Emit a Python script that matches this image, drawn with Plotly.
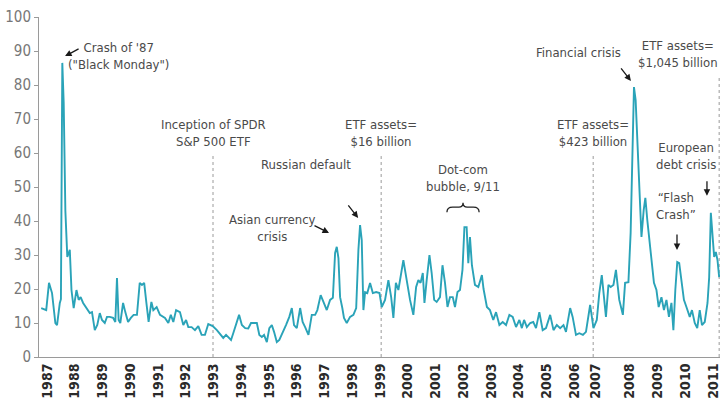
import plotly.graph_objects as go

# ---- data ----
years = [1986.79, 1986.97, 1987.07, 1987.18, 1987.30, 1987.36, 1987.46, 1987.50, 1987.55, 1987.60,
         1987.66, 1987.73, 1987.82, 1987.88, 1987.96, 1988.06, 1988.14, 1988.21, 1988.30, 1988.42,
         1988.54, 1988.62, 1988.72, 1988.81, 1988.90, 1988.98, 1989.08, 1989.16, 1989.26, 1989.38,
         1989.46, 1989.52, 1989.58, 1989.64, 1989.74, 1989.82, 1989.92, 1990.02, 1990.12, 1990.24,
         1990.34, 1990.42, 1990.50, 1990.58, 1990.66, 1990.76, 1990.83, 1990.95, 1991.07, 1991.25,
         1991.37, 1991.46, 1991.55, 1991.65, 1991.79, 1991.91, 1992.01, 1992.09, 1992.21, 1992.33,
         1992.45, 1992.57, 1992.69, 1992.81, 1992.97, 1993.12, 1993.26, 1993.35, 1993.45, 1993.53,
         1993.63, 1993.71, 1993.81, 1993.92, 1994.02, 1994.14, 1994.25, 1994.35, 1994.46, 1994.56,
         1994.65, 1994.74, 1994.82, 1994.92, 1995.01, 1995.10, 1995.18, 1995.28, 1995.37, 1995.49,
         1995.61, 1995.73, 1995.82, 1995.90, 1996.00, 1996.12, 1996.21, 1996.30, 1996.42, 1996.54,
         1996.66, 1996.74, 1996.86, 1996.96, 1997.08, 1997.20, 1997.30, 1997.38, 1997.44, 1997.50,
         1997.56, 1997.64, 1997.70, 1997.80, 1997.92, 1998.04, 1998.14, 1998.22, 1998.28, 1998.34,
         1998.40, 1998.46, 1998.54, 1998.64, 1998.74, 1998.86, 1998.98, 1999.06, 1999.18, 1999.30,
         1999.40, 1999.48, 1999.57, 1999.66, 1999.75, 1999.84, 1999.96, 2000.08, 2000.20, 2000.30,
         2000.38, 2000.46, 2000.54, 2000.60, 2000.68, 2000.78, 2000.86, 2000.95, 2001.04, 2001.16,
         2001.25, 2001.34, 2001.43, 2001.52, 2001.62, 2001.70, 2001.79, 2001.88, 2001.97, 2002.04,
         2002.12, 2002.18, 2002.24, 2002.31, 2002.42, 2002.54, 2002.67, 2002.73, 2002.85, 2002.96,
         2003.08, 2003.18, 2003.30, 2003.42, 2003.54, 2003.66, 2003.78, 2003.90, 2004.02, 2004.11,
         2004.19, 2004.29, 2004.41, 2004.52, 2004.62, 2004.74, 2004.86, 2004.98, 2005.13, 2005.25,
         2005.37, 2005.49, 2005.61, 2005.70, 2005.85, 2005.94, 2006.06, 2006.18, 2006.31, 2006.42,
         2006.57, 2006.69, 2006.81, 2006.90, 2006.99, 2007.07, 2007.14, 2007.23, 2007.31, 2007.41,
         2007.50, 2007.62, 2007.75, 2007.83, 2007.95, 2008.03, 2008.15, 2008.21, 2008.27, 2008.36,
         2008.42, 2008.50, 2008.56, 2008.63, 2008.72, 2008.80, 2008.87, 2008.96, 2009.04, 2009.14,
         2009.23, 2009.32, 2009.41, 2009.50, 2009.57, 2009.64, 2009.71, 2009.78, 2009.86, 2009.95,
         2010.04, 2010.16, 2010.24, 2010.34, 2010.43, 2010.52, 2010.60, 2010.70, 2010.80, 2010.86,
         2010.92, 2010.98, 2011.04, 2011.10, 2011.16, 2011.22]
vix = [14.4, 13.8, 21.8, 18.8, 10.0, 9.4, 15.9, 17.0, 86.5, 74.7,
       43.0, 29.4, 31.5, 19.7, 14.4, 19.7, 16.8, 17.6, 15.9, 14.4,
       12.9, 13.2, 7.9, 9.4, 12.9, 10.9, 10.0, 11.8, 11.8, 11.5,
       10.3, 23.2, 10.9, 10.0, 15.9, 13.2, 10.3, 11.5, 12.4, 12.4,
       21.8, 21.2, 21.8, 15.9, 10.3, 16.2, 13.8, 14.7, 12.4, 11.5,
       10.0, 12.4, 10.3, 13.8, 13.2, 9.4, 10.9, 8.8, 8.8, 7.9,
       9.1, 6.5, 6.5, 9.7, 9.1, 7.9, 6.5, 5.6, 6.5, 5.9,
       5.0, 7.0, 9.4, 12.4, 9.4, 8.5, 8.4, 10.0, 10.0, 10.0,
       6.5, 5.9, 6.5, 4.4, 8.5, 9.4, 7.4, 4.4, 5.0, 7.0,
       9.4, 11.8, 14.4, 9.4, 8.5, 14.4, 10.3, 8.8, 6.5, 12.4,
       12.4, 13.8, 18.2, 16.2, 13.8, 16.8, 17.4, 30.6, 32.4, 29.1,
       17.6, 14.4, 11.5, 10.0, 11.8, 12.4, 14.4, 31.5, 38.8, 34.4,
       13.8, 19.1, 18.8, 21.8, 18.8, 19.1, 18.8, 14.7, 16.8, 22.6,
       17.6, 11.5, 21.8, 19.7, 24.7, 28.5, 22.6, 16.8, 12.4, 20.6,
       22.6, 21.8, 24.7, 15.9, 22.6, 30.0, 24.7, 16.8, 16.2, 17.6,
       27.0, 21.8, 14.7, 17.6, 17.6, 14.7, 19.1, 19.7, 25.6, 38.2,
       38.2, 27.6, 35.3, 27.0, 21.2, 20.6, 24.1, 20.0, 14.7, 13.8,
       10.9, 13.2, 9.4, 10.3, 9.4, 12.4, 11.8, 8.8, 10.9, 8.5,
       10.9, 8.8, 10.0, 10.3, 8.5, 13.2, 7.9, 8.5, 12.4, 7.9,
       9.4, 8.5, 9.4, 7.4, 14.4, 11.8, 6.5, 7.0, 6.5, 7.4,
       15.3, 8.5, 10.9, 18.8, 24.1, 16.8, 11.8, 21.2, 20.6, 21.2,
       25.6, 16.8, 12.4, 21.8, 22.0, 36.5, 79.4, 75.6, 64.7, 50.0,
       35.3, 43.2, 46.8, 40.3, 33.5, 26.5, 21.8, 19.7, 14.7, 17.6,
       13.8, 16.8, 11.8, 15.9, 7.9, 19.7, 27.9, 27.6, 21.8, 16.8,
       14.7, 11.8, 13.8, 10.0, 8.5, 13.8, 9.4, 10.3, 15.9, 23.5,
       42.4, 36.5, 29.4, 30.9, 28.5, 23.5]

tick_years = [1987, 1988, 1989, 1990, 1991, 1992, 1993, 1994, 1995, 1996, 1997, 1998,
              1999, 2000, 2001, 2002, 2003, 2004, 2005, 2006, 2006.75, 2008, 2009, 2010, 2011]
tick_text = ["1987", "1988", "1989", "1990", "1991", "1992", "1993", "1994", "1995", "1996",
             "1997", "1998", "1999", "2000", "2001", "2002", "2003", "2004", "2005", "2006",
             "2007", "2008", "2009", "2010", "2011"]

FONT = "Liberation Sans Narrow, DejaVu Sans Condensed, Arial Narrow, sans-serif"
TXT = "#4a4a4a"

fig = go.Figure()
fig.add_trace(go.Scatter(x=years, y=vix, mode="lines",
                         line=dict(color="#2aa3b8", width=1.9),
                         hoverinfo="skip", showlegend=False))

# vertical reference lines (event markers)
for xv, ytop in [(1992.98, 59.7), (1999.04, 59.1), (2006.68, 59.7), (2011.22, 82.4)]:
    fig.add_shape(type="line", x0=xv, x1=xv, y0=0, y1=ytop, xref="x", yref="y",
                  line=dict(color="#9a9a9a", width=1, dash="dot"), layer="below")

# curly brace over dot-com peak
fig.add_shape(type="path",
              path="M 2001.41,42.6 Q 2001.41,44.1 2001.62,44.1 L 2001.84,44.1 Q 2001.99,44.1 2001.99,45.4 "
                   "Q 2001.99,44.1 2002.14,44.1 L 2002.36,44.1 Q 2002.57,44.1 2002.57,42.6",
              xref="x", yref="y", line=dict(color="#222", width=1.3))

text_notes = [
    (1989.56, 88.4, "Crash of '87<br>(\"Black Monday\")", "center"),
    (1992.98, 65.9, "Inception of SPDR<br>S&P 500 ETF", "center"),
    (1999.04, 65.9, "ETF assets=<br>$16 billion", "center"),
    (1996.33, 56.5, "Russian default", "center"),
    (1995.14, 37.9, "Asian currency<br>crisis", "center"),
    (2001.99, 52.6, "Dot-com<br>bubble, 9/11", "center"),
    (2006.68, 65.9, "ETF assets=<br>$423 billion", "center"),
    (2006.14, 89.7, "Financial crisis", "center"),
    (2011.24, 89.1, "ETF assets=<br>$1,045 billion", "right"),
    (2010.03, 59.1, "European<br>debt crisis", "center"),
    (2009.67, 44.4, "\u201cFlash<br>Crash\u201d", "center"),
]
for xv, yv, t, anc in text_notes:
    fig.add_annotation(x=xv, y=yv, text=t, showarrow=False, xanchor=anc, yanchor="middle",
                       font=dict(family=FONT, size=13, color=TXT), align="center")

arrows = [
    (1987.65, 88.5, 15, -8),
    (1998.21, 40.9, -11, -14),
    (1997.16, 36.5, -16, -8),
    (2008.04, 81.2, -11, -14),
    (2009.70, 31.5, 0, -17),
    (2010.78, 47.4, 0, -16),
]
for xv, yv, ax, ay in arrows:
    fig.add_annotation(x=xv, y=yv, ax=ax, ay=ay, text="", showarrow=True,
                       arrowhead=2, arrowsize=1, arrowwidth=1.3, arrowcolor="#1a1a1a")

fig.update_layout(
    width=724, height=402,
    margin=dict(l=39, r=4, t=17, b=45),
    paper_bgcolor="white", plot_bgcolor="white",
    font=dict(family=FONT),
    showlegend=False,
    xaxis=dict(range=[1986.71, 2011.25], tickmode="array", tickvals=tick_years, ticktext=tick_text,
               tickangle=-90, showgrid=False, zeroline=False, showline=True, linecolor="#9a9a9a",
               linewidth=1, ticks="", automargin=False,
               tickfont=dict(family=FONT, size=14, color="#2a2a2a", weight="bold")),
    yaxis=dict(range=[0, 100], tickmode="array", tickvals=list(range(0, 101, 10)),
               showgrid=False, zeroline=False, showline=True, linecolor="#9a9a9a", linewidth=1,
               ticks="outside", ticklen=4, tickcolor="#9a9a9a", automargin=False,
               tickfont=dict(family=FONT, size=15, color="#777777")),
)

fig.write_html("out.html", config={"displayModeBar": False},
               post_script="document.body.style.margin='0';document.body.style.padding='0';")
